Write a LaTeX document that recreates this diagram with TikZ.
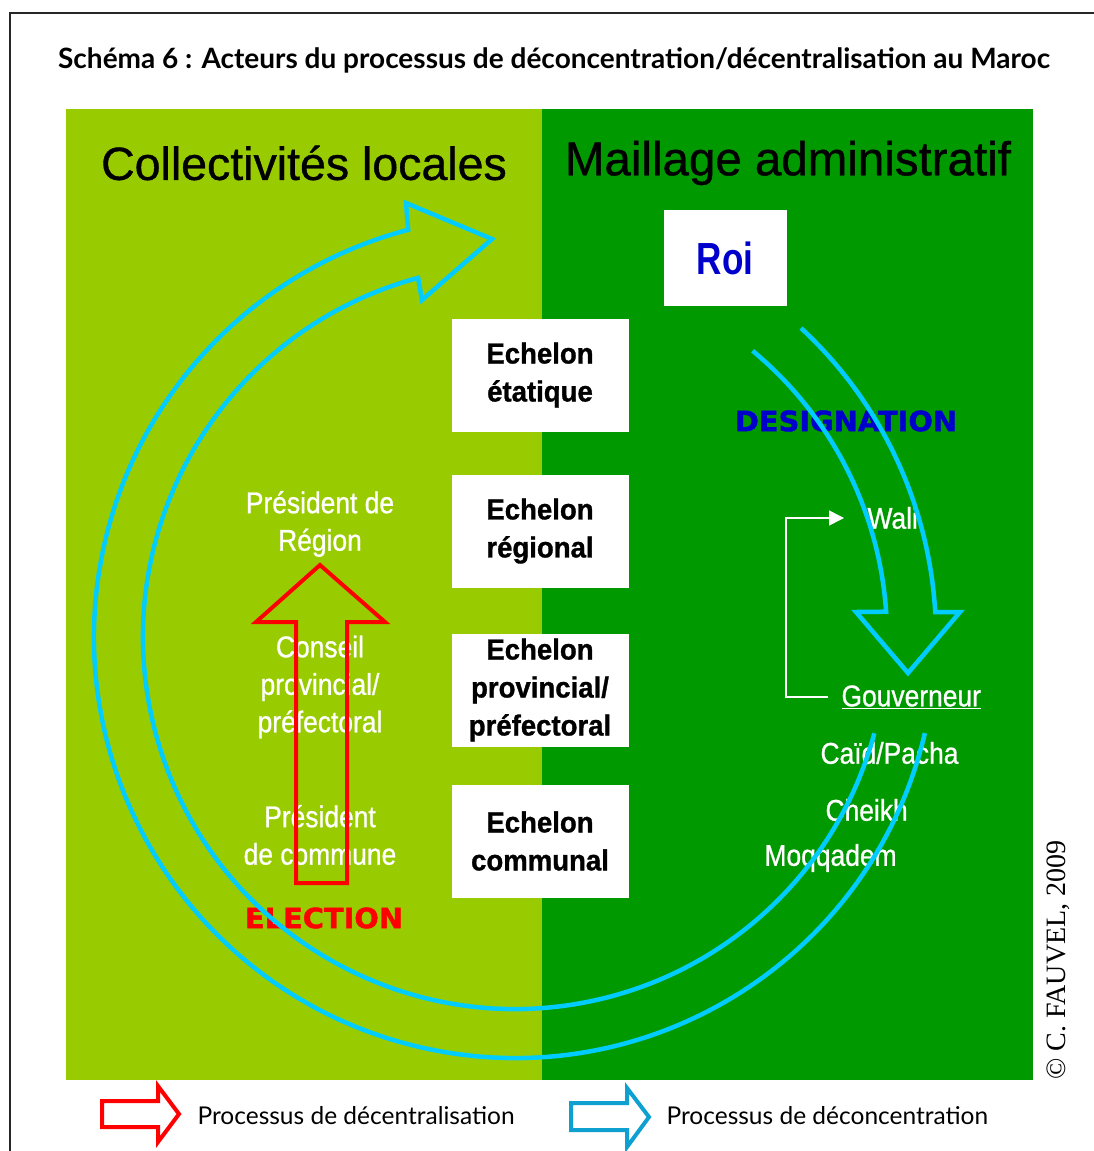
\documentclass[tikz,border=0pt]{standalone}
\usepackage{fontspec}
\usepackage{tikz}
\usetikzlibrary{arrows.meta, positioning, calc}
\setmainfont{Liberation Sans}
\newfontfamily\titlefont{Lato}
\newfontfamily\headfont[FakeBold=0.8]{Liberation Sans}
\newfontfamily\boxfont[FakeStretch=0.95, FakeBold=1]{Liberation Sans}
\newfontfamily\narrowfont[FakeStretch=0.88, FakeBold=0.8]{Liberation Sans}
\newfontfamily\roifont[FakeStretch=0.78]{Liberation Sans}
\newfontfamily\heavyfont[FakeStretch=1.03, FakeBold=1.5]{DejaVu Sans}
\newfontfamily\copyfont{Liberation Serif}
\definecolor{lightgreen}{HTML}{99CC00}
\definecolor{darkgreen}{HTML}{009900}
\definecolor{arccyan}{HTML}{00CCFF}
\definecolor{roiblue}{HTML}{0000CC}
\definecolor{legendblue}{HTML}{0FA0D2}
\tikzset{
  echelon/.style={
    rectangle, fill=white, minimum width=177pt, minimum height=113pt,
    text centered, align=center, font=\boxfont\bfseries\fontsize{29}{38}\selectfont
  },
  actor/.style={
    text=white, align=center, font=\narrowfont\fontsize{30}{37.5}\selectfont
  },
  heading/.style={
    font=\headfont\fontsize{46.5}{56}\selectfont, text=black
  },
  process/.style={
    font=\heavyfont\bfseries\fontsize{28}{32}\selectfont
  },
  arcline/.style={
    draw=arccyan, line width=4.5pt, line join=miter
  }
}

\begin{document}
\begin{tikzpicture}[
    x=1pt, y=-1pt,
    legend/.style = {font=\titlefont\fontsize{24.5}{28}\selectfont, anchor=west},
    bracket/.style = {draw=white, line width=1.5pt, -{Triangle[length=15pt, width=15pt]}}
]
\useasboundingbox (0,0) rectangle (1094,1151);

% Frame and title
\draw[line width=2pt, black!85] (10,1151) -- (10,13) -- (1094,13);
\node[font=\titlefont\bfseries\fontsize{28}{32}\selectfont] (title) at (554,60) {Schéma 6 : Acteurs du processus de déconcentration/décentralisation au Maroc};

% Panels
\fill[lightgreen] (66,109) rectangle (542,1080);
\fill[darkgreen] (542,109) rectangle (1033,1080);

\node[heading] (colloc) at (304,163) {Collectivités locales};
\node[heading, font=\headfont\fontsize{47.5}{56}\selectfont] (maillage) at (788,163) {Maillage administratif};

% Echelons
\node[echelon] (etat) at (540,375) {Echelon\\étatique};
\node[echelon] (region) at (540,531) {Echelon\\régional};
\node[echelon] (prov) at (540,690) {Echelon\\provincial/\\préfectoral};
\node[echelon] (commune) at (540,841) {Echelon\\communal};
\node[fill=white, minimum width=123pt, minimum height=96pt, text=roiblue,
      font=\roifont\bfseries\fontsize{45}{50}\selectfont] (roi) at (725,258) {Roi};

% Elected side
\node[actor] (presreg) at (320,524) {Président de\\Région};
\node[actor] (conseil) at (320,687) {Conseil\\provincial/\\préfectoral};
\node[actor] (prescom) at (320,835) {Président\\de commune};
\node[process, text=red] (election) at (324,918) {ELECTION};

% Appointed side
\node[process, text=roiblue] (design) at (846,421) {DESIGNATION};
\node[actor, anchor=west] (wali) at (864,518) {Wali};
\node[actor, anchor=west] (gouv) at (838,697) {\underline{Gouverneur}};
\node[actor, anchor=west] (caid) at (817,753) {Caïd/Pacha};
\node[actor, anchor=west] (cheikh) at (822,810) {Cheikh};
\node[actor, anchor=west] (moqq) at (761,858) {Moqqadem};
\draw[bracket] ([xshift=-10pt]gouv.west) -- ++(-42,0) |- ([xshift=-20pt]wali.west);

% Election arrow
\draw[red, line width=4pt] (296,883) -- (296,622) -- (256,622) -- (320,565)
  -- (385,622) -- (347,622) -- (347,883) -- cycle;

% Deconcentration arrows
\coordinate (ctr) at (515,637);
\draw[arcline] ($(ctr)+(13.2:421)$) arc[start angle=13.2, end angle=255.3, radius=421]
  -- (406,203) -- (492,239) -- (422,300)
  -- ($(ctr)+(254.9:372)$) arc[start angle=254.9, end angle=15, radius=372];
\draw[arcline] ($(ctr)+(-47.2:421)$) arc[start angle=-47.2, end angle=-3.4, radius=421]
  -- (960,612) -- (908,673) -- (856,612)
  -- ($(ctr)+(-3.9:372)$) arc[start angle=-3.9, end angle=-50.3, radius=372];

% Copyright
\node[rotate=90, font=\copyfont\fontsize{28}{32}\selectfont] (copy) at (1058,960) {© C. FAUVEL, 2009};

% Legend
\draw[red, line width=4pt] (102,1101) -- (158,1101) -- (158,1086) -- (179,1114)
  -- (158,1142) -- (158,1127) -- (102,1127) -- cycle;
\node[legend] (leg1) at (194,1116) {Processus de décentralisation};
\draw[legendblue, line width=4pt] (571,1103) -- (627,1103) -- (627,1088) -- (649,1117)
  -- (627,1147) -- (627,1130) -- (571,1130) -- cycle;
\node[legend] (leg2) at (663,1116) {Processus de déconcentration};

\end{tikzpicture}
\end{document}
